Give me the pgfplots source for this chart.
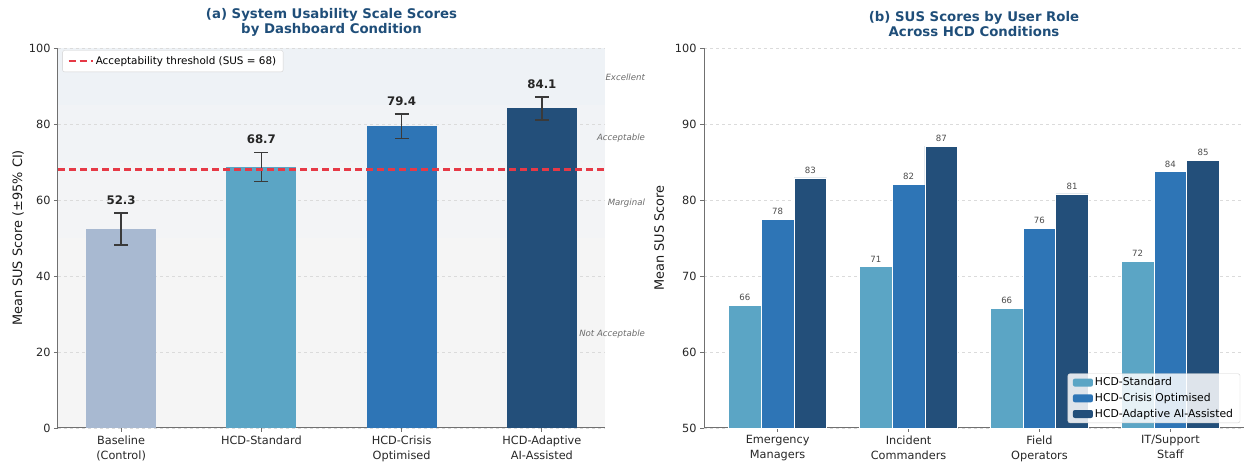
\documentclass[border=0pt]{standalone}
\usepackage{fontspec}
\setmainfont{DejaVu Sans}
\usepackage{pgfplots}
\pgfplotsset{compat=1.18}
\definecolor{cBase}{HTML}{A8B9D1}
\definecolor{cStd}{HTML}{5BA5C5}
\definecolor{cCri}{HTML}{2E75B6}
\definecolor{cAda}{HTML}{234F7A}
\definecolor{cTitle}{HTML}{1F4E79}
\definecolor{cRed}{HTML}{E63946}
\definecolor{cSpine}{HTML}{707070}
\definecolor{cErr}{HTML}{3A3A3A}
\definecolor{bA}{HTML}{EEF2F6}
\definecolor{bB}{HTML}{F1F3F6}
\definecolor{bC}{HTML}{F3F4F6}
\definecolor{bD}{HTML}{F5F5F5}
\pgfplotsset{
  myaxis/.style={
    scale only axis, height=380pt, anchor=south west,
    axis x line*=bottom, axis y line*=left,
    axis line style={cSpine, line width=1pt},
    tick style={cSpine, line width=0.8pt},
    tick align=outside, major tick length=4pt,
    ticklabel style={font=\fontsize{11.3}{15}\selectfont, text=black!85},
    xticklabel style={align=center},
    /pgf/number format/assume math mode=true,
    ymajorgrids, grid style={dashed, black!14, line width=0.6pt},
    title style={font=\bfseries\fontsize{13.3}{15}\selectfont, text=cTitle, align=center, yshift=2pt},
    legend cell align=left,
    clip=false,
  },
  errstyle/.style={error bars/.cd, y dir=both, y explicit,
   error bar style={cErr, line width=1.6pt},
   error mark options={cErr, line width=1.6pt, mark size=7pt, rotate=90}},
}
\begin{document}
\begin{tikzpicture}
\useasboundingbox (0,0) rectangle (1244pt,465pt);
% background bands of panel (a)
\fill[bD] (58pt,37pt) rectangle (605pt,227pt);
\fill[bC] (58pt,227pt) rectangle (605pt,303pt);
\fill[bB] (58pt,303pt) rectangle (605pt,360pt);
\fill[bA] (58pt,360pt) rectangle (605pt,417pt);
% ---------------- (a)
\begin{axis}[myaxis, at={(58pt,37pt)}, width=547pt,
  xmin=-0.45, xmax=3.45, ymin=0, ymax=100, ytick={0,20,...,100},
  xtick={0,1,2,3},
  xticklabels={{Baseline\\(Control)},{HCD-Standard},{HCD-Crisis\\Optimised},{HCD-Adaptive\\AI-Assisted}},
  ylabel={Mean SUS Score (±95\% CI)},
  every axis y label/.style={at={(axis description cs:-0.073,0.5)}, rotate=90, anchor=center,
     font=\fontsize{12.9}{15}\selectfont, text=black!90},
  title={(a) System Usability Scale Scores\\by Dashboard Condition},
  legend style={at={(axis description cs:0.008,0.994)}, anchor=north west,
    font=\fontsize{10.4}{12}\selectfont, draw=black!18, fill=white, rounded corners=2pt,
    inner xsep=5pt, inner ysep=4pt},
  legend image code/.code={\draw[#1] (0pt,0pt) -- (24pt,0pt);},
]
\addplot[ybar, bar width=0.5, bar shift=0pt, fill=cBase, draw=none, forget plot, errstyle] coordinates {(0,52.3) +- (0,4.2)};
\addplot[ybar, bar width=0.5, bar shift=0pt, fill=cStd, draw=none, forget plot, errstyle] coordinates {(1,68.7) +- (0,3.8)};
\addplot[ybar, bar width=0.5, bar shift=0pt, fill=cCri, draw=none, forget plot, errstyle] coordinates {(2,79.4) +- (0,3.2)};
\addplot[ybar, bar width=0.5, bar shift=0pt, fill=cAda, draw=none, forget plot, errstyle] coordinates {(3,84.1) +- (0,3.0)};
\addplot[draw=cRed, line width=2.2pt, dash pattern=on 7pt off 4pt, mark=none] coordinates {(-0.45,68) (3.45,68)};
\addlegendentry{Acceptability threshold (SUS = 68)}
\begin{scope}[every node/.style={font=\bfseries\fontsize{11.8}{12}\selectfont, text=black!85}]
\node at (axis cs:0,59.9) {52.3};
\node at (axis cs:1,75.9) {68.7};
\node at (axis cs:2,86.0) {79.4};
\node at (axis cs:3,90.5) {84.1};
\end{scope}
\begin{scope}[every node/.style={anchor=east, font=\itshape\fontsize{8.6}{9}\selectfont, text=black!58}]
\node at (axis cs:3.76,92.3) {Excellent};
\node at (axis cs:3.76,76.2) {Acceptable};
\node at (axis cs:3.76,59.1) {Marginal};
\node at (axis cs:3.76,24.8) {Not Acceptable};
\end{scope}
\end{axis}
% ---------------- (b)
\begin{axis}[myaxis, at={(704pt,37pt)}, width=540pt,
  xmin=-0.5625, xmax=3.5625, ymin=50, ymax=100, ytick={50,60,...,100},
  xtick={0,1,2,3},
  xticklabels={{Emergency\\Managers},{Incident\\Commanders},{Field\\Operators},{IT/Support\\Staff}},
  ylabel={Mean SUS Score},
  every axis y label/.style={at={(axis description cs:-0.083,0.5)}, rotate=90, anchor=center,
     font=\fontsize{12.9}{15}\selectfont, text=black!90},
  title={(b) SUS Scores by User Role\\Across HCD Conditions},
  ybar, bar width=0.25,
  legend style={at={(axis description cs:0.993,0.013)}, anchor=south east,
    font=\fontsize{10.8}{12}\selectfont, draw=black!18, fill=white, fill opacity=0.85, text opacity=1,
    rounded corners=2pt, inner xsep=5pt, inner ysep=2pt, row sep=2pt},
  legend image code/.code={\fill[#1, draw=none, fill opacity=1] (0pt,-4pt) rectangle (20pt,4pt);},
  nodes near coords, point meta=explicit symbolic,
  every node near coord/.append style={font=\fontsize{8.6}{9}\selectfont, text=black!70, yshift=1pt},
]
\addplot[fill=cStd, draw=white, line width=0.8pt, bar shift=-0.25] coordinates {(0,66.1) [66] (1,71.2) [71] (2,65.7) [66] (3,71.9) [72]};
\addlegendentry{HCD-Standard}
\addplot[fill=cCri, draw=white, line width=0.8pt, bar shift=0] coordinates {(0,77.4) [78] (1,82.0) [82] (2,76.3) [76] (3,83.7) [84]};
\addlegendentry{HCD-Crisis Optimised}
\addplot[fill=cAda, draw=white, line width=0.8pt, bar shift=0.25] coordinates {(0,82.9) [83] (1,87.1) [87] (2,80.8) [81] (3,85.2) [85]};
\addlegendentry{HCD-Adaptive AI-Assisted}
\end{axis}
\end{tikzpicture}
\end{document}
